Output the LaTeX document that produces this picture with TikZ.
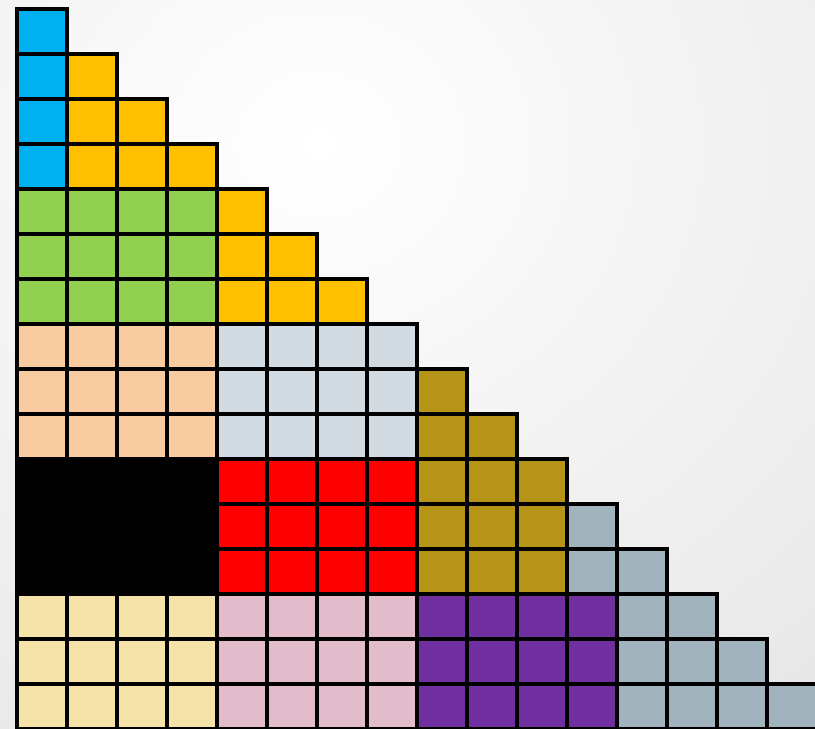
\documentclass[tikz,border=0pt]{standalone}
\usepackage{tikz}

\definecolor{cellblue}{HTML}{00B0F0}
\definecolor{cellgold}{HTML}{FFC000}
\definecolor{cellgreen}{HTML}{92D050}
\definecolor{cellpeach}{HTML}{F8CBA0}
\definecolor{cellslate}{HTML}{D3DBE2}
\definecolor{cellolive}{HTML}{B59418}
\definecolor{cellred}{HTML}{FF0000}
\definecolor{cellcream}{HTML}{F6E3AA}
\definecolor{cellpink}{HTML}{E2BCCB}
\definecolor{cellpurple}{HTML}{7030A0}
\definecolor{cellgrey}{HTML}{A1B3BD}

\begin{document}
\begin{tikzpicture}[x=0.5cm, y=-0.45cm, cell/.style={draw=black, line width=0.95pt}]
  % Frame and background
  \useasboundingbox (-0.34,-0.2) rectangle (15.96,15.98);
  \clip (-0.34,-0.2) rectangle (15.96,15.98);
  \shade[inner color=white, outer color=black!20] (6,3) circle (34);

  % Top left blocks
  \foreach \r in {0,...,3}
    \filldraw[cell, fill=cellblue] (0,\r) rectangle ++(1,1);
  \foreach \r in {1,...,3}
    \foreach \c in {1,...,\r}
      \filldraw[cell, fill=cellgold] (\c,\r) rectangle ++(1,1);

  % Rows 4--6
  \foreach \r in {4,...,6} {
    \foreach \c in {0,...,3}
      \filldraw[cell, fill=cellgreen] (\c,\r) rectangle ++(1,1);
    \foreach \c in {4,...,\r}
      \filldraw[cell, fill=cellgold] (\c,\r) rectangle ++(1,1);
  }

  % Rows 7--9
  \foreach \r in {7,...,9} {
    \foreach \c in {0,...,3}
      \filldraw[cell, fill=cellpeach] (\c,\r) rectangle ++(1,1);
    \foreach \c in {4,...,7}
      \filldraw[cell, fill=cellslate] (\c,\r) rectangle ++(1,1);
  }

  % Olive staircase
  \foreach \r in {8,...,12} {
    \pgfmathtruncatemacro{\m}{min(\r,10)}
    \foreach \c in {8,...,\m}
      \filldraw[cell, fill=cellolive] (\c,\r) rectangle ++(1,1);
  }

  % Rows 10--12
  \filldraw[cell, fill=black] (0,10) rectangle (4,13);
  \foreach \r in {10,...,12}
    \foreach \c in {4,...,7}
      \filldraw[cell, fill=cellred] (\c,\r) rectangle ++(1,1);

  % Rows 13--15
  \foreach \r in {13,...,15} {
    \foreach \c in {0,...,3}
      \filldraw[cell, fill=cellcream] (\c,\r) rectangle ++(1,1);
    \foreach \c in {4,...,7}
      \filldraw[cell, fill=cellpink] (\c,\r) rectangle ++(1,1);
    \foreach \c in {8,...,11}
      \filldraw[cell, fill=cellpurple] (\c,\r) rectangle ++(1,1);
  }

  % Grey staircase
  \foreach \r/\s in {11/11, 12/11, 13/12, 14/12, 15/12}
    \foreach \c in {\s,...,\r}
      \filldraw[cell, fill=cellgrey] (\c,\r) rectangle ++(1,1);
\end{tikzpicture}
\end{document}
